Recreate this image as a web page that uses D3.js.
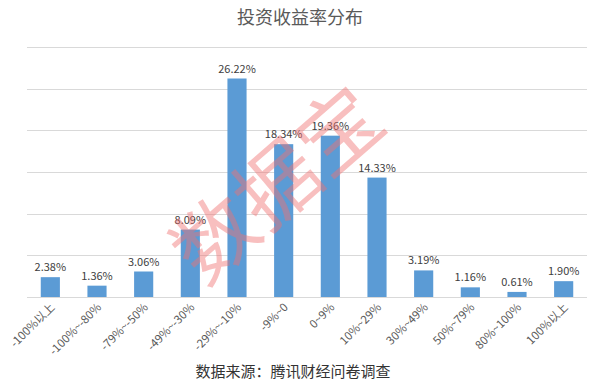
<!DOCTYPE html>
<html>
<head>
<meta charset="utf-8">
<script src="https://cdn.jsdelivr.net/npm/d3@7"></script>
<style>
  body { margin: 0; background: #fff; }
  text { font-family: "Noto Sans CJK SC", "Microsoft YaHei", sans-serif; }
</style>
</head>
<body>
<div class="chart"></div>
<script>
// data
var categories = ["-100%以上", "-100%~-80%", "-79%~-50%", "-49%~-30%", "-29%~-10%", "-9%~0",
                  "0~9%", "10%~29%", "30%~49%", "50%~79%", "80%~100%", "100%以上"];
var values = [2.38, 1.36, 3.06, 8.09, 26.22, 18.34, 19.36, 14.33, 3.19, 1.16, 0.61, 1.90];
var yTicks = [0, 5, 10, 15, 20, 25, 30];

var svgWidth = 599, svgHeight = 387;
var margin = { top: 47, bottom: 90, right: 12, left: 27 };
var width = svgWidth - margin.left - margin.right;
var height = svgHeight - margin.top - margin.bottom;

var svg = d3.select(".chart").append("svg")
    .attr("width", svgWidth)
    .attr("height", svgHeight);

// title
svg.append("text")
    .attr("x", 300).attr("y", 24)
    .attr("text-anchor", "middle")
    .attr("font-size", 18)
    .attr("fill", "#595959")
    .text("投资收益率分布");

var chartGroup = svg.append("g")
    .attr("transform", `translate(${margin.left}, ${margin.top})`);

var xScale = d3.scaleBand()
    .domain(categories)
    .range([0, width])
    .paddingInner(0.59)
    .paddingOuter(0.295);

var yScale = d3.scaleLinear()
    .domain([0, 30])
    .range([height, 0]);

// gridlines
chartGroup.selectAll(".grid")
    .data(yTicks)
    .enter()
    .append("line")
    .attr("x1", 0).attr("x2", width)
    .attr("y1", d => Math.round(yScale(d)) + 0.5)
    .attr("y2", d => Math.round(yScale(d)) + 0.5)
    .attr("stroke", "#d9d9d9")
    .attr("stroke-width", 1);

// bars
chartGroup.selectAll("rect")
    .data(values)
    .enter()
    .append("rect")
    .attr("x", (d, i) => xScale(categories[i]))
    .attr("y", d => yScale(d))
    .attr("width", xScale.bandwidth())
    .attr("height", d => height - yScale(d))
    .attr("fill", "#5B9BD5");

// value labels
chartGroup.append("g").selectAll("text")
    .data(values)
    .enter()
    .append("text")
    .attr("x", (d, i) => xScale(categories[i]) + xScale.bandwidth() / 2)
    .attr("y", d => yScale(d) - 6)
    .attr("text-anchor", "middle")
    .attr("font-size", 11)
    .attr("fill", "#404040")
    .text(d => d.toFixed(2) + "%");

// x axis labels
var xAxis = d3.axisBottom(xScale).tickSize(0).tickPadding(0);
var xg = chartGroup.append("g")
    .attr("transform", `translate(0, ${height})`)
    .call(xAxis);
xg.select(".domain").remove();
xg.selectAll("text")
    .attr("font-family", null)
    .attr("font-size", 11.5)
    .attr("fill", "#595959")
    .attr("text-anchor", "end")
    .attr("dy", null)
    .attr("y", 0)
    .attr("transform", "translate(5, 11) rotate(-45)");

// watermark
svg.append("text")
    .attr("transform", "translate(282, 190) rotate(-41)")
    .attr("text-anchor", "middle")
    .attr("dominant-baseline", "middle")
    .attr("font-size", 82)
    .attr("font-weight", 400)
    .attr("fill", "#f07070")
    .attr("fill-opacity", 0.45)
    .text("数据宝");

// source
svg.append("text")
    .attr("x", 293).attr("y", 377)
    .attr("text-anchor", "middle")
    .attr("font-size", 15)
    .attr("fill", "#333")
    .text("数据来源：腾讯财经问卷调查");
</script>
</body>
</html>
